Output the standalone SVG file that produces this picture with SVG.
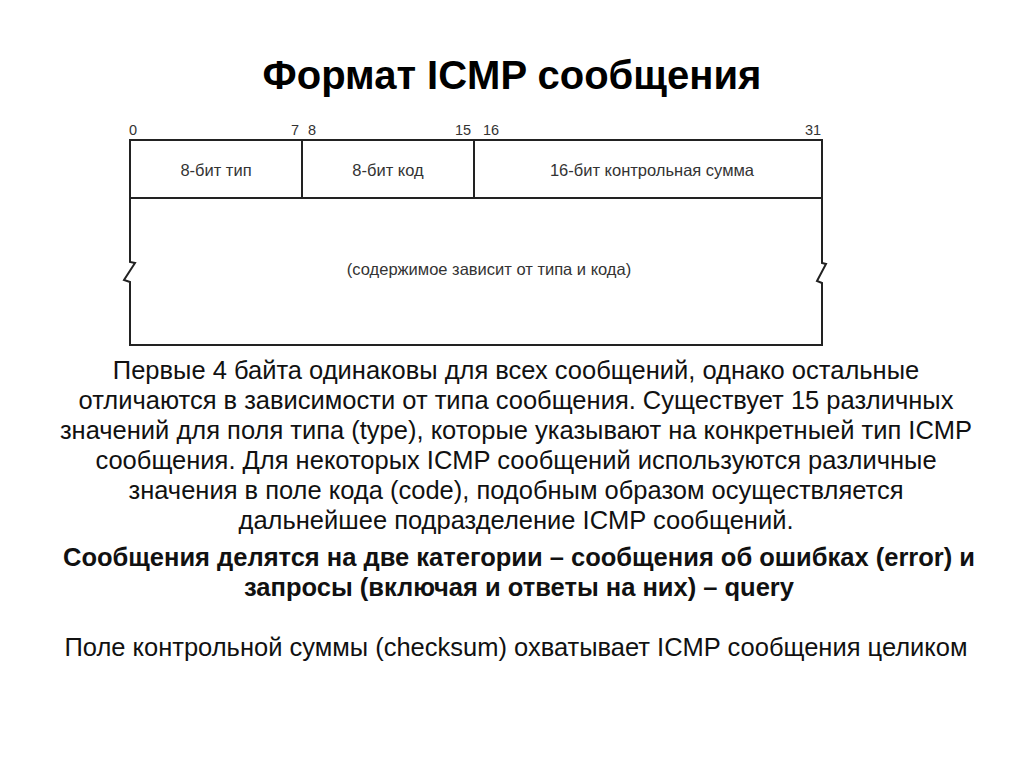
<svg xmlns="http://www.w3.org/2000/svg" width="1024" height="767" viewBox="0 0 1024 767">
<style>
.title{font-family:"Liberation Sans",Arial,sans-serif;font-size:40px;font-weight:bold;fill:#000;text-anchor:middle}
.num{font-family:"Liberation Sans",Arial,sans-serif;font-size:14.5px;fill:#333}
.cell{font-family:"Liberation Sans",Arial,sans-serif;font-size:16.5px;fill:#333;text-anchor:middle}
.para{font-family:"Liberation Sans",Arial,sans-serif;font-size:25.5px;fill:#111;text-anchor:middle}
.bold{font-weight:bold}
.box{fill:none;stroke:#222;stroke-width:2}
</style>
<rect width="1024" height="767" fill="#fff"/>
<text class="title" x="512" y="89">Формат ICMP сообщения</text>
<g id="header">
<text class="num" x="129" y="135">0</text>
<text class="num" x="291" y="135">7</text>
<text class="num" x="308" y="135">8</text>
<text class="num" x="455" y="135">15</text>
<text class="num" x="483" y="135">16</text>
<text class="num" x="805" y="135">31</text>
</g>
<g id="field-type">
<rect class="box" x="130" y="140" width="172" height="58"/>
<text class="cell" x="216" y="176">8-бит тип</text>
</g>
<g id="field-code">
<rect class="box" x="302" y="140" width="172" height="58"/>
<text class="cell" x="388" y="176">8-бит код</text>
</g>
<g id="field-checksum">
<rect class="box" x="474" y="140" width="348" height="58"/>
<text class="cell" x="652" y="176">16-бит контрольная сумма</text>
</g>
<g id="field-data">
<path class="box" d="M130,198 L130,262 L135,263 L124,280 L130,282 L130,345 L822,345 L822,283 L817,281 L826,264 L822,263 L822,198"/>
<text class="cell" x="489" y="275">(содержимое зависит от типа и кода)</text>
</g>
<g id="text">
<text class="para" x="516" y="379">Первые 4 байта одинаковы для всех сообщений, однако остальные</text>
<text class="para" x="516" y="409">отличаются в зависимости от типа сообщения. Существует 15 различных</text>
<text class="para" x="516" y="439">значений для поля типа (type), которые указывают на конкретныей тип ICMP</text>
<text class="para" x="516" y="469">сообщения. Для некоторых ICMP сообщений используются различные</text>
<text class="para" x="516" y="499">значения в поле кода (code), подобным образом осуществляется</text>
<text class="para" x="516" y="529">дальнейшее подразделение ICMP сообщений.</text>
<text class="para bold" x="519" y="566">Сообщения делятся на две категории – сообщения об ошибках (error) и</text>
<text class="para bold" x="519" y="596">запросы (включая и ответы на них) – query</text>
<text class="para" x="516" y="656">Поле контрольной суммы (checksum) охватывает ICMP сообщения целиком</text>
</g>
</svg>
